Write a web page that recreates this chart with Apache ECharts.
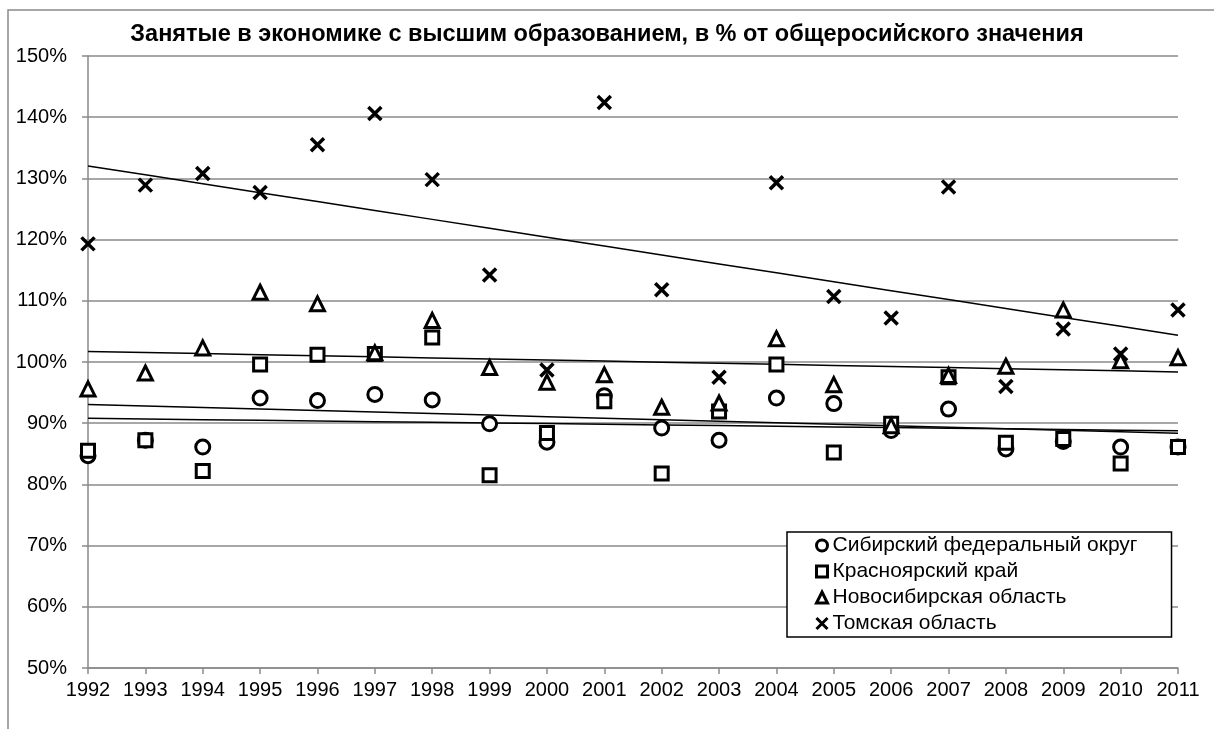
<!DOCTYPE html>
<html>
<head>
<meta charset="utf-8">
<script src="https://cdn.jsdelivr.net/npm/echarts@6/dist/echarts.min.js"></script>
<style>
  html, body { margin: 0; padding: 0; background: #fff; }
  #chart { width: 1214px; height: 729px; }
</style>
</head>
<body>
<div id="chart"></div>
<script>
// годы
const years = ['1992', '1993', '1994', '1995', '1996', '1997', '1998', '1999', '2000', '2001',
  '2002', '2003', '2004', '2005', '2006', '2007', '2008', '2009', '2010', '2011'];

// значения, % от общероссийского
const sfoValues = [84.7, 87.2, 86.1, 94.1, 93.7, 94.7, 93.8, 89.9, 86.9, 94.5,
  89.2, 87.2, 94.1, 93.2, 88.8, 92.3, 85.8, 87.0, 86.1, 86.1];
const krasValues = [85.5, 87.2, 82.2, 99.6, 101.2, 101.3, 104.0, 81.5, 88.4, 93.6,
  81.8, 91.9, 99.6, 85.2, 89.9, 97.5, 86.8, 87.4, 83.4, 86.1];
const novValues = [95.6, 98.2, 102.3, 111.4, 109.5, 101.5, 106.8, 99.1, 96.7, 97.9,
  92.6, 93.3, 103.8, 96.3, 89.6, 97.8, 99.3, 108.5, 100.2, 100.7];
const tomValues = [119.3, 128.9, 130.8, 127.7, 135.5, 140.6, 129.8, 114.2, 98.7, 142.4,
  111.8, 97.5, 129.3, 110.7, 107.2, 128.6, 96.0, 105.4, 101.3, 108.5];

const seriesNames = ['Сибирский федеральный округ', 'Красноярский край', 'Новосибирская область', 'Томская область'];
const yTicks = [50, 60, 70, 80, 90, 100, 110, 120, 130, 140, 150];

const crossPath = 'path://M0,0L10,10M10,0L0,10';
const fontFamily = 'Liberation Sans, Arial, sans-serif';

// линейный тренд (МНК)
function trend(values) {
  const n = values.length;
  let sx = 0, sy = 0, sxy = 0, sxx = 0;
  values.forEach((v, i) => { sx += i; sy += v; sxy += i * v; sxx += i * i; });
  const b = (n * sxy - sx * sy) / (n * sxx - sx * sx);
  const a = (sy - b * sx) / n;
  return values.map((v, i) => +(a + b * i).toFixed(3));
}

function scatter(name, data, symbol, size) {
  return {
    name: name,
    type: 'scatter',
    data: data,
    symbol: symbol,
    symbolSize: size,
    itemStyle: {color: '#fff', borderColor: '#000', borderWidth: 3, opacity: 1},
    z: 3
  };
}

function trendLine(data) {
  return {
    type: 'line',
    data: trend(data),
    showSymbol: false,
    silent: true,
    lineStyle: {color: '#000', width: 1.5},
    z: 2
  };
}

const chart = echarts.init(document.getElementById('chart'));

const crossSeries = scatter(seriesNames[3], tomValues, crossPath, 13);
crossSeries.itemStyle = {color: 'rgba(0,0,0,0)', borderColor: '#000', borderWidth: 3.5, opacity: 1};

chart.setOption({
  backgroundColor: '#fff',
  animation: false,
  textStyle: {fontFamily: fontFamily},
  title: {
    text: 'Занятые в экономике с высшим образованием, в % от общеросийского значения',
    left: 'center',
    top: 18,
    textStyle: {fontSize: 23.5, fontWeight: 'bold', color: '#000', fontFamily: fontFamily}
  },
  graphic: [{
    type: 'rect',
    shape: {x: 8, y: 10, width: 1300, height: 900},
    style: {fill: 'none', stroke: '#8a8a8a', lineWidth: 1.5},
    silent: true
  }],
  grid: {left: 88, right: 36, top: 56, bottom: 61},
  legend: {
    orient: 'vertical',
    left: 787,
    top: 532,
    padding: [3, 34, 3, 28],
    itemGap: 5,
    itemWidth: 11,
    itemHeight: 11,
    borderColor: '#000',
    borderWidth: 1.5,
    backgroundColor: '#fff',
    itemStyle: {borderWidth: 3, borderColor: '#000', opacity: 1},
    textStyle: {fontSize: 21, color: '#000', lineHeight: 21},
    data: seriesNames
  },
  xAxis: {
    type: 'category',
    data: years,
    boundaryGap: false,
    axisLine: {lineStyle: {color: '#8a8a8a', width: 1.5}},
    axisTick: {show: true, length: 6, alignWithLabel: true, lineStyle: {color: '#8a8a8a', width: 1.5}},
    axisLabel: {color: '#000', fontSize: 20, margin: 12, interval: 0},
    splitLine: {show: false}
  },
  yAxis: {
    type: 'value',
    min: yTicks[0],
    max: yTicks[yTicks.length - 1],
    interval: 10,
    axisLine: {show: true, lineStyle: {color: '#8a8a8a', width: 1.5}},
    axisTick: {show: true, length: 6, lineStyle: {color: '#8a8a8a', width: 1.5}},
    axisLabel: {color: '#000', fontSize: 20, margin: 21, formatter: v => v + '%'},
    splitLine: {show: true, lineStyle: {color: '#8a8a8a', width: 1.5}}
  },
  series: [
    trendLine(sfoValues),
    trendLine(krasValues),
    trendLine(novValues),
    trendLine(tomValues),
    scatter(seriesNames[0], sfoValues, 'circle', 14),
    scatter(seriesNames[1], krasValues, 'rect', 13),
    scatter(seriesNames[2], novValues, 'triangle', 14),
    crossSeries
  ]
});
</script>
</body>
</html>
